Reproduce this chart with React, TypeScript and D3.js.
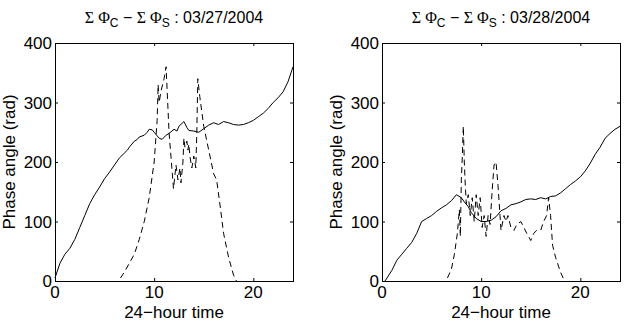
import React from "react";
import * as d3 from "d3";

// Time (24-hour) and phase angle values
const solid1T = [0, 0.3, 0.5, 1, 1.5, 2, 2.5, 3, 3.5, 4, 4.5, 5, 5.5, 6, 6.5, 7, 7.3, 7.5, 8, 8.3, 8.5, 9, 9.3, 9.5, 9.8, 10, 10.5, 10.8, 11.2, 11.5, 12, 12.3, 12.5, 13, 13.3, 13.5, 14, 14.5, 15, 15.5, 16, 16.5, 17, 17.5, 18, 18.5, 19, 19.5, 20, 20.5, 21, 21.5, 22, 22.5, 23, 23.5, 24];
const solid1V = [5, 20, 30, 45, 55, 70, 90, 110, 130, 145, 158, 172, 183, 195, 207, 215, 220, 225, 235, 238, 242, 245, 250, 255, 254, 250, 240, 238, 245, 248, 255, 252, 260, 268, 258, 253, 252, 250, 256, 262, 266, 263, 268, 266, 263, 262, 263, 266, 270, 276, 282, 290, 300, 308, 318, 335, 360];

const dash1T = [6.6, 7, 7.5, 8, 8.5, 9, 9.5, 10, 10.3, 10.4, 10.5, 10.7, 11, 11.2, 11.5, 11.95, 12.2, 12.4, 12.6, 12.7, 12.9, 13, 13.1, 13.3, 13.4, 13.5, 13.6, 13.8, 14, 14.2, 14.3, 14.4, 14.6, 15, 15.5, 16, 16.3, 16.7, 17, 17.5, 18, 18.3];
const dash1V = [5, 15, 30, 45, 70, 100, 140, 200, 270, 330, 300, 320, 340, 360, 250, 155, 195, 170, 190, 165, 200, 240, 225, 235, 220, 230, 210, 190, 210, 190, 250, 340, 310, 260, 220, 180, 170, 120, 80, 40, 10, 0];

const solid2T = [0.3, 0.5, 1, 1.5, 2, 2.5, 3, 3.5, 4, 4.5, 5, 5.5, 6, 6.5, 7, 7.5, 8, 8.3, 8.7, 9, 9.5, 10, 10.5, 11, 11.5, 12, 12.5, 13, 13.5, 14, 14.5, 15, 15.5, 16, 16.5, 17, 17.5, 18, 18.5, 19, 19.5, 20, 20.5, 21, 21.5, 22, 22.5, 23, 23.5, 24];
const solid2V = [0, 5, 18, 35, 45, 55, 65, 80, 100, 105, 110, 117, 123, 128, 135, 145, 140, 133, 125, 115, 105, 100, 100, 102, 108, 118, 122, 128, 130, 133, 137, 138, 137, 140, 138, 142, 143, 148, 155, 162, 168, 175, 185, 198, 213, 225, 240, 248, 255, 260];

const dash2T = [6.6, 7, 7.3, 7.6, 7.8, 7.9, 8, 8.1, 8.2, 8.3, 8.4, 8.5, 8.7, 8.9, 9.1, 9.3, 9.5, 9.7, 9.9, 10.1, 10.3, 10.5, 10.7, 10.9, 11.1, 11.3, 11.5, 11.7, 11.9, 12, 12.3, 12.5, 12.7, 13, 13.3, 13.6, 14, 14.3, 14.6, 15, 15.3, 15.6, 16, 16.3, 16.6, 16.8, 17, 17.2, 17.5, 18, 18.4];
const dash2V = [5, 20, 45, 80, 120, 75, 170, 210, 260, 200, 160, 130, 145, 110, 140, 100, 145, 110, 140, 90, 110, 75, 110, 95, 150, 195, 200, 160, 110, 85, 110, 100, 110, 90, 85, 95, 100, 90, 80, 68, 80, 85, 85, 100, 110, 140, 110, 60, 40, 15, 0];

const xTicks = [0, 10, 20];
const yTicks = [0, 100, 200, 300, 400];
const dates = ["03/27/2004", "03/28/2004"];

const font = "'Liberation Sans', Arial, Helvetica, sans-serif";

type PanelProps = {
  left: number;
  date: string;
  sT: number[];
  sV: number[];
  dT: number[];
  dV: number[];
};

const Panel = ({ left, date, sT, sV, dT, dV }: PanelProps) => {
  const top = 43;
  const w = 238;
  const h = 238;
  const x = d3.scaleLinear().domain([0, 24]).range([left, left + w]);
  const y = d3.scaleLinear().domain([0, 400]).range([top + h, top]);
  const line = d3
    .line<[number, number]>()
    .x((d) => x(d[0]))
    .y((d) => y(d[1]));
  const solid = line(sT.map((t, i) => [t, sV[i]]));
  const dashed = line(dT.map((t, i) => [t, dV[i]]));
  const tl = 3;
  const cx = left + w / 2;
  return (
    <g>
      {/* titulo */}
      <text x={cx} y={23} textAnchor="middle" fontSize={16} fontFamily={font} fill="#000">
        <tspan fontFamily="'Liberation Serif', serif">Σ Φ</tspan>
        <tspan fontSize={12} dy={4}>C</tspan>
        <tspan dy={-4}> − </tspan>
        <tspan fontFamily="'Liberation Serif', serif">Σ Φ</tspan>
        <tspan fontSize={12} dy={4}>S</tspan>
        <tspan dy={-4}> : {date}</tspan>
      </text>
      <path d={solid ?? ""} fill="none" stroke="#000" strokeWidth={1} />
      <path d={dashed ?? ""} fill="none" stroke="#000" strokeWidth={1} strokeDasharray="6,4" />
      <rect x={left + 0.5} y={top + 0.5} width={w} height={h} fill="none" stroke="#000" strokeWidth={1} />
      {xTicks.map((t) => (
        <g key={"x" + t}>
          <line x1={x(t) + 0.5} x2={x(t) + 0.5} y1={top + h} y2={top + h - tl} stroke="#000" />
          <line x1={x(t) + 0.5} x2={x(t) + 0.5} y1={top} y2={top + tl} stroke="#000" />
          <text x={x(t)} y={top + h + 17} textAnchor="middle" fontSize={17} fontFamily={font}>
            {t}
          </text>
        </g>
      ))}
      {yTicks.map((t) => (
        <g key={"y" + t}>
          <line x1={left} x2={left + tl} y1={y(t) + 0.5} y2={y(t) + 0.5} stroke="#000" />
          <line x1={left + w} x2={left + w - tl} y1={y(t) + 0.5} y2={y(t) + 0.5} stroke="#000" />
          <text x={left - 3} y={y(t) + 6} textAnchor="end" fontSize={17} fontFamily={font}>
            {t}
          </text>
        </g>
      ))}
      <text x={cx} y={318} textAnchor="middle" fontSize={17} fontFamily={font}>
        24−hour time
      </text>
      <text
        transform={`translate(${left - 40},${top + h / 2}) rotate(-90)`}
        textAnchor="middle"
        fontSize={17}
        fontFamily={font}
      >
        Phase angle (rad)
      </text>
    </g>
  );
};

export default function App() {
  return (
    <svg
      width={627}
      height={325}
      style={{ position: "absolute", left: 0, top: 0, background: "#fff" }}
    >
      <rect width={627} height={325} fill="#fff" />
      <Panel left={55} date={dates[0]} sT={solid1T} sV={solid1V} dT={dash1T} dV={dash1V} />
      <Panel left={382} date={dates[1]} sT={solid2T} sV={solid2V} dT={dash2T} dV={dash2V} />
    </svg>
  );
}
